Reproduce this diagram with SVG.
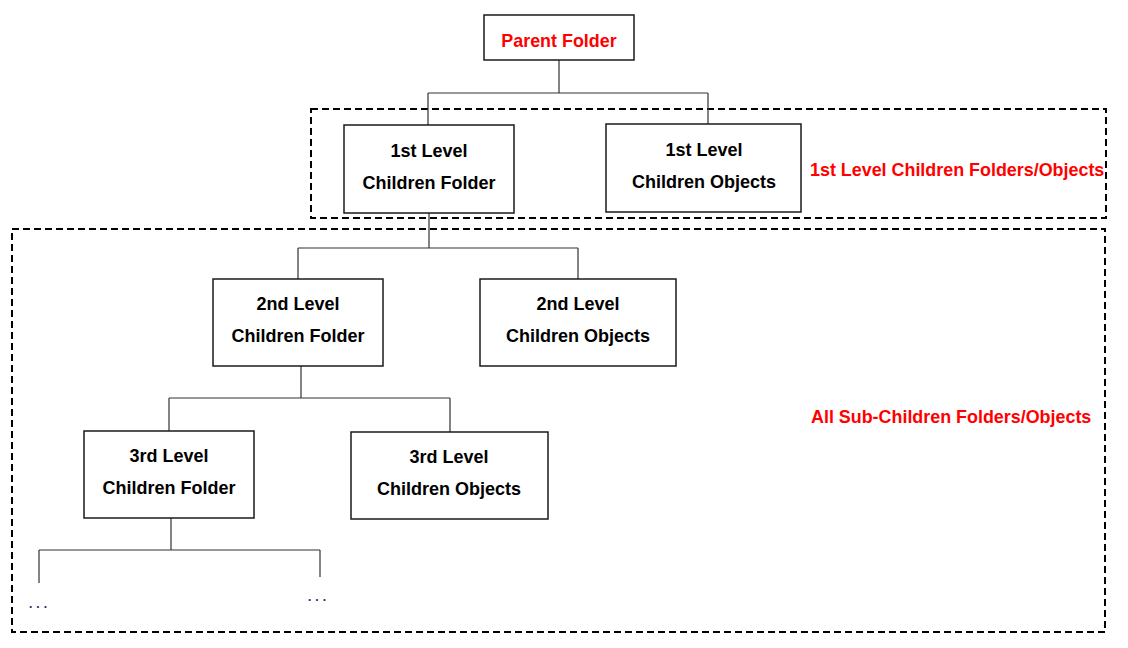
<svg xmlns="http://www.w3.org/2000/svg" width="1128" height="648" viewBox="0 0 1128 648">
<style>
.box{fill:#fff;stroke:#1a1a1a;stroke-width:1.5}
.grp{fill:none;stroke:#000;stroke-width:2;stroke-dasharray:7 4}
.t{font-family:"Liberation Sans",Arial,sans-serif;font-weight:bold;font-size:18px;fill:#000;text-anchor:middle}
.r{font-family:"Liberation Sans",Arial,sans-serif;font-weight:bold;font-size:17.9px;fill:#ff0000}
.c{fill:none;stroke:#333;stroke-width:1.2}
.dots{font-family:"Liberation Sans",Arial,sans-serif;font-weight:bold;font-size:12px;fill:#1a2a5a}
</style>
<rect width="1128" height="648" fill="#fff"/>
<g id="groups">
<rect class="grp" x="311" y="109" width="795" height="109"/>
<rect class="grp" x="12" y="229" width="1093" height="403"/>
</g>
<g id="connectors">
<path class="c" d="M559 60V93M428 93H708M428 93V125M708 93V124"/>
<path class="c" d="M429 213V248M298 248H578M298 248V279M578 248V279"/>
<path class="c" d="M301 366V398M169 398H450M169 398V431M450 398V432"/>
<path class="c" d="M171 518V550M39 550H320M39 550V583M320 550V577"/>
</g>
<g id="parent">
<rect class="box" x="484" y="15" width="150" height="45"/>
<text class="r" x="559" y="47" text-anchor="middle">Parent Folder</text>
</g>
<g id="l1folder">
<rect class="box" x="344" y="125" width="170" height="88"/>
<text class="t" x="429" y="157">1st Level</text>
<text class="t" x="429" y="189">Children Folder</text>
</g>
<g id="l1objects">
<rect class="box" x="606" y="124" width="195" height="88"/>
<text class="t" x="704" y="156">1st Level</text>
<text class="t" x="704" y="188">Children Objects</text>
</g>
<g id="l1label">
<text class="r" x="810" y="176">1st Level Children Folders/Objects</text>
</g>
<g id="l2folder">
<rect class="box" x="213" y="279" width="170" height="87"/>
<text class="t" x="298" y="310">2nd Level</text>
<text class="t" x="298" y="342">Children Folder</text>
</g>
<g id="l2objects">
<rect class="box" x="480" y="279" width="196" height="87"/>
<text class="t" x="578" y="310">2nd Level</text>
<text class="t" x="578" y="342">Children Objects</text>
</g>
<g id="sublabel">
<text class="r" x="811" y="423">All Sub-Children Folders/Objects</text>
</g>
<g id="l3folder">
<rect class="box" x="84" y="431" width="170" height="87"/>
<text class="t" x="169" y="462">3rd Level</text>
<text class="t" x="169" y="494">Children Folder</text>
</g>
<g id="l3objects">
<rect class="box" x="351" y="432" width="197" height="87"/>
<text class="t" x="449" y="463">3rd Level</text>
<text class="t" x="449" y="495">Children Objects</text>
</g>
<g id="more">
<text class="dots" x="29" y="608" letter-spacing="4">...</text>
<text class="dots" x="308" y="601" letter-spacing="4">...</text>
</g>
</svg>
